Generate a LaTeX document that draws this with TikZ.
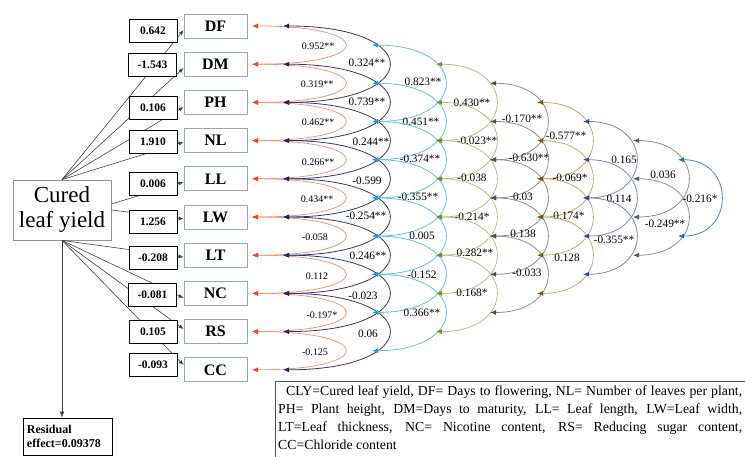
\documentclass[tikz,border=0pt]{standalone}
\usepackage{fontspec}
\setmainfont{Liberation Serif}
\usetikzlibrary{arrows.meta}

% arc colours per correlation level: line colour and arrow-tip colour
\definecolor{c1line}{HTML}{EC9A78}\definecolor{c1tip}{HTML}{EB4A1B}
\definecolor{c2line}{HTML}{2E3A6E}\definecolor{c2tip}{HTML}{1B2A5E}
\definecolor{c3line}{HTML}{5EC3E0}\definecolor{c3tip}{HTML}{1C9FDB}
\definecolor{c4line}{HTML}{B9BE80}\definecolor{c4tip}{HTML}{7A8C2A}
\definecolor{c5line}{HTML}{8C8C8C}\definecolor{c5tip}{HTML}{4F4F4F}
\definecolor{c6line}{HTML}{C4AA66}\definecolor{c6tip}{HTML}{7F5F08}
\definecolor{c7line}{HTML}{7488B8}\definecolor{c7tip}{HTML}{2C5196}
\definecolor{c8line}{HTML}{8E8E8E}\definecolor{c8tip}{HTML}{5A5A5A}
\definecolor{c9line}{HTML}{3C8CCF}\definecolor{c9tip}{HTML}{1E6EBE}
\definecolor{boxgray}{HTML}{9AA4AE}
\definecolor{clyborder}{HTML}{8494A4}

\tikzset{
  varbox/.style={draw=boxgray, line width=0.8pt, fill=white, inner sep=0pt,
    minimum width=63pt, minimum height=24pt,
    font=\fontsize{16}{16}\selectfont\bfseries},
  valbox/.style={draw=black, line width=0.8pt, fill=white, inner sep=0pt,
    minimum width=48pt, minimum height=23pt,
    font=\fontsize{11.5}{12}\selectfont\bfseries},
  pathlink/.style={draw=black!75, line width=0.6pt,
    -{Latex[length=5pt,width=4pt]}},
  corr/.style 2 args={draw=#1, line width=0.8pt,
    {Latex[length=6pt,width=5pt,color=#2]}-{Latex[length=6pt,width=5pt,color=#2]}},
  lab1/.style={font=\fontsize{10}{10}\selectfont, inner sep=0pt},
  lab/.style={font=\fontsize{11.3}{11.3}\selectfont, inner sep=0pt},
}

\begin{document}
\begin{tikzpicture}[x=1pt,y=-1pt]
\useasboundingbox (0,0) rectangle (745,457);
\clip (0,0) rectangle (745,457);

% ---- correlation arcs between adjacent traits
\foreach \lab/\lx/\ly [count=\i from 0] in {0.952**/318/46, 0.319**/317/84,
    0.462**/318/122, 0.266**/318/162, 0.434**/317/199, -0.058/315/237,
    0.112/317/276, -0.197*/322/315, -0.125/315/352} {
  \pgfmathsetmacro\ya{26+38.2*\i}
  \pgfmathsetmacro\yb{\ya+38.2}
  \coordinate (t1-\i) at (252,\ya);
  \coordinate (b1-\i) at (252,\yb);
  \draw[corr={c1line}{c1tip}] (t1-\i) .. controls +(124,0) and +(124,0) .. (b1-\i);
  \node[lab1] (r1-\i) at (\lx,\ly) {\lab};
}

% ---- correlation arcs for traits two or more rows apart
\foreach \k/\ax/\w/\labs in {
  2/283/106/{0.324**/367/63, 0.739**/367/102, 0.244**/371/142, -0.599/367/181,
             -0.254**/366/216, 0.246**/368/256, -0.023/363/296, 0.06/368/334},
  3/372/73/{0.823**/423/82, 0.451**/421/122, -0.374**/420/159, -0.355**/418/197,
            0.005/422/236, -0.152/422/275, 0.366**/422/313},
  4/436/60/{0.430**/472/103, -0.023**/477/141, -0.038/472/178, -0.214*/472/217,
            0.282**/475/253, 0.168*/472/293},
  5/490/57/{-0.170**/522/119, -0.630**/529/158, 0.03/523/197, 0.138/523/234,
            -0.033/527/273},
  6/537/55/{-0.577**/566/136, -0.069*/570/178, 0.174*/569/216, 0.128/567/258},
  7/583/53/{0.165/624/160, 0.114/619/199, -0.355**/614/240},
  8/633/55/{0.036/663/175, -0.249**/665/224},
  9/678/43/{-0.216*/700/199}} {
  \pgfmathsetmacro\cc{4*\w/3}
  \foreach \lab/\lx/\ly [count=\i from 0] in \labs {
    \pgfmathsetmacro\ya{26+38.2*(\i+\k/2-1)}
    \pgfmathsetmacro\yb{\ya+76.4}
    \coordinate (t\k-\i) at (\ax,\ya);
    \coordinate (b\k-\i) at (\ax,\yb);
    \draw[corr={c\k line}{c\k tip}] (t\k-\i) .. controls +(\cc,0) and +(\cc,0) .. (b\k-\i);
    \node[lab] (r\k-\i) at (\lx,\ly) {\lab};
  }
}

% ---- trait boxes
\foreach \nm [count=\i from 0] in {DF,DM,PH,NL,LL,LW,LT,NC,RS,CC} {
  \node[varbox] (\nm) at (215.5,26+38.2*\i) {\nm};
}

% ---- yield box and links to the traits
\node[draw=clyborder, line width=0.8pt, fill=white, inner sep=0pt,
  minimum width=98pt, minimum height=60pt, align=center,
  font=\fontsize{23}{25}\selectfont] (cly) at (62,210) {Cured\\leaf yield};

\draw[pathlink] (cly.north) -- ([yshift=-4pt]DF.west);
\draw[pathlink] (cly.north) -- ([yshift=-3.8pt]DM.west);
\draw[pathlink] (cly.north) -- ([yshift=-4.6pt]PH.west);
\draw[pathlink] (cly.north) -- ([yshift=-1.4pt]NL.west);
\draw[pathlink] ([yshift=6pt]cly.east) -- ([yshift=-3.2pt]LL.west);
\draw[pathlink] (cly.east) -- ([yshift=-2pt]LW.west);
\draw[pathlink] (cly.south) -- ([yshift=-1.8pt]LT.west);
\draw[pathlink] (cly.south) -- ([yshift=-4.6pt]NC.west);
\draw[pathlink] (cly.south) -- ([yshift=2.6pt]RS.west);
\draw[pathlink] (cly.south) -- ([yshift=4.8pt]CC.west);

% ---- direct effects
\node[valbox] (vDF) at (153,31) {0.642};
\node[valbox] (vDM) at (152.5,65) {-1.543};
\node[valbox] (vPH) at (153,108) {0.106};
\node[valbox] (vNL) at (153,141.5) {1.910};
\node[valbox] (vLL) at (153,184) {0.006};
\node[valbox] (vLW) at (153,222) {1.256};
\node[valbox] (vLT) at (153,258) {-0.208};
\node[valbox] (vNC) at (152.5,295) {-0.081};
\node[valbox] (vRS) at (153,332) {0.105};
\node[valbox] (vCC) at (153,365) {-0.093};

% ---- residual
\node[draw=black, line width=0.8pt, inner xsep=4pt, inner ysep=0pt,
  text width=81pt, minimum height=37pt, align=left,
  font=\fontsize{12}{14}\selectfont\bfseries] (res) at (67.5,436.5)
  {Residual\\effect=0.09378};
\draw[pathlink, -{Latex[length=6pt,width=4.5pt]}] (cly.south) -- (cly.south |- res.north);

% ---- abbreviations
\node[draw=black!70, line width=0.7pt, anchor=north west, inner sep=0pt,
  minimum width=520pt, minimum height=100pt] (key) at (275,381) {};
\node[anchor=north west, inner sep=0pt, text width=464pt, align=justify,
  font=\fontsize{13.8}{18}\selectfont] (keytext) at (278,386)
  {\hspace*{8pt}CLY=Cured leaf yield, DF= Days to flowering, NL= Number of leaves per plant,\linebreak
   PH= Plant height, DM=Days to maturity, LL= Leaf length, LW=Leaf width,\linebreak
   LT=Leaf thickness, NC= Nicotine content, RS= Reducing sugar content,\linebreak
   CC=Chloride content};
\end{tikzpicture}
\end{document}
